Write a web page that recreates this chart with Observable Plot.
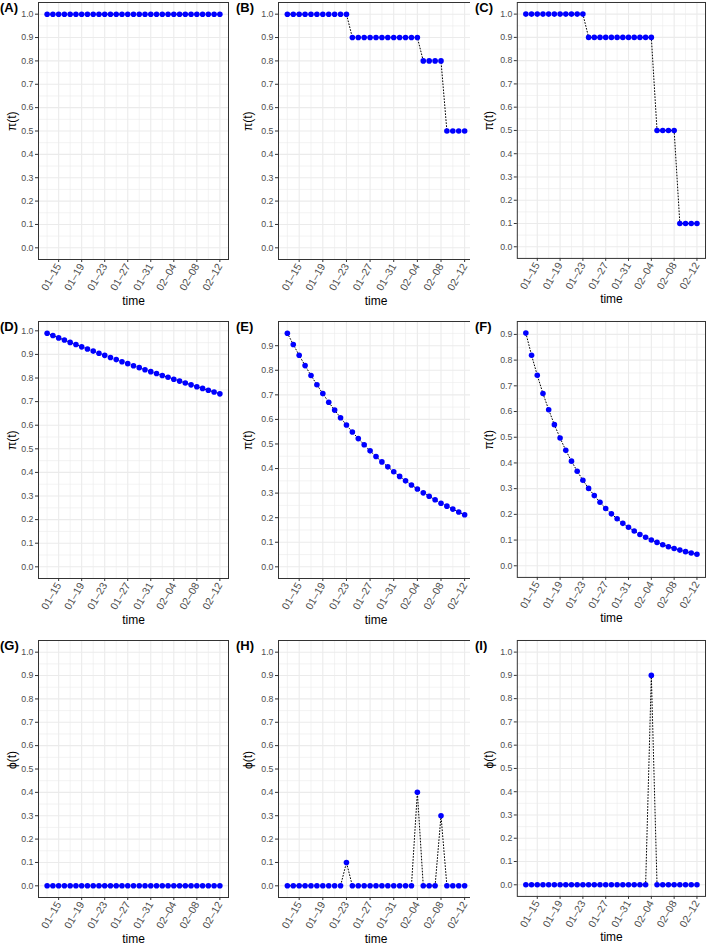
<!DOCTYPE html>
<html><head><meta charset="utf-8">
<script src="https://cdn.jsdelivr.net/npm/d3@7"></script>
<script src="https://cdn.jsdelivr.net/npm/@observablehq/plot@0.6"></script>
<style>
html,body{margin:0;padding:0;background:#fff;}
#root{position:relative;width:709px;height:946px;overflow:hidden;font-family:"Liberation Sans",Arial,sans-serif;}
.cell{position:absolute;}
.cell svg{display:block;overflow:visible;}
.tag{position:absolute;font-weight:bold;font-size:13px;line-height:13px;color:#000;font-family:"Liberation Sans",Arial,sans-serif;}
</style></head><body><div id="root"></div>
<script>
// ---- data ----
const dates = ["2020-01-13","2020-01-14","2020-01-15","2020-01-16","2020-01-17","2020-01-18","2020-01-19","2020-01-20","2020-01-21","2020-01-22","2020-01-23","2020-01-24","2020-01-25","2020-01-26","2020-01-27","2020-01-28","2020-01-29","2020-01-30","2020-01-31","2020-02-01","2020-02-02","2020-02-03","2020-02-04","2020-02-05","2020-02-06","2020-02-07","2020-02-08","2020-02-09","2020-02-10","2020-02-11","2020-02-12"];
const tickDates = ["2020-01-15","2020-01-19","2020-01-23","2020-01-27","2020-01-31","2020-02-04","2020-02-08","2020-02-12"];
const tickLabels = ["01–15","01–19","01–23","01–27","01–31","02–04","02–08","02–12"];
const minorDates = ["2020-01-13","2020-01-17","2020-01-21","2020-01-25","2020-01-29","2020-02-02","2020-02-06","2020-02-10"];
const yTickValues = [0,0.1,0.2,0.3,0.4,0.5,0.6,0.7,0.8,0.9,1.0];
const yMinorValues = [0.05,0.15,0.25,0.35,0.45,0.55,0.65,0.75,0.85,0.95];

const valuesA = [1,1,1,1,1,1,1,1,1,1,1,1,1,1,1,1,1,1,1,1,1,1,1,1,1,1,1,1,1,1,1];
const valuesB = [1,1,1,1,1,1,1,1,1,1,1,0.9,0.9,0.9,0.9,0.9,0.9,0.9,0.9,0.9,0.9,0.9,0.9,0.8,0.8,0.8,0.8,0.5,0.5,0.5,0.5];
const valuesC = [1,1,1,1,1,1,1,1,1,1,1,0.9,0.9,0.9,0.9,0.9,0.9,0.9,0.9,0.9,0.9,0.9,0.9,0.5,0.5,0.5,0.5,0.1,0.1,0.1,0.1];
const valuesD = [0.990,0.980,0.970,0.961,0.951,0.942,0.932,0.923,0.914,0.905,0.896,0.887,0.878,0.869,0.861,0.852,0.844,0.835,0.827,0.819,0.811,0.803,0.795,0.787,0.779,0.771,0.763,0.756,0.748,0.741,0.733];
const valuesE = [0.951,0.905,0.861,0.819,0.779,0.741,0.705,0.670,0.638,0.607,0.577,0.549,0.522,0.497,0.472,0.449,0.427,0.407,0.387,0.368,0.350,0.333,0.317,0.301,0.287,0.273,0.259,0.247,0.235,0.223,0.212];
const valuesF = [0.905,0.819,0.741,0.670,0.607,0.549,0.497,0.449,0.407,0.368,0.333,0.301,0.273,0.247,0.223,0.202,0.183,0.165,0.150,0.135,0.122,0.111,0.100,0.091,0.082,0.074,0.067,0.061,0.055,0.050,0.045];
const valuesG = [0,0,0,0,0,0,0,0,0,0,0,0,0,0,0,0,0,0,0,0,0,0,0,0,0,0,0,0,0,0,0];
const valuesH = [0,0,0,0,0,0,0,0,0,0,0.1,0,0,0,0,0,0,0,0,0,0,0,0.4,0,0,0,0.3,0,0,0,0];
const valuesI = [0,0,0,0,0,0,0,0,0,0,0,0,0,0,0,0,0,0,0,0,0,0,0.9,0,0,0,0,0,0,0,0];

const panelTags = ["(A)","(B)","(C)","(D)","(E)","(F)","(G)","(H)","(I)"];
const panelYLabels = ["π(t)","π(t)","π(t)","π(t)","π(t)","π(t)","ϕ(t)","ϕ(t)","ϕ(t)"];
const panelValues = [valuesA,valuesB,valuesC,valuesD,valuesE,valuesF,valuesG,valuesH,valuesI];
const panelYLimits = [[0,1],[0,1],[0,1],[0,0.99],[0,0.951],[0,0.905],[0,1],[0,1],[0,1]];

// ---- layout ----
const colLeft = [0,236,470];
const colMarginLeft = [38,42,47];
const colFrameW = [190,195,189];
const colTagX = [0,236,475];
const colYLabOff = [26,30,28];
const rowTop = [0,319,638];
const marginTop = 2, frameH = 257, marginBottom = 50, marginRight = 4;

const xStart = new Date("2020-01-11T12:00:00Z");
const xEnd = new Date("2020-02-13T12:00:00Z");
const labelMap = new Map(tickDates.map((d,i)=>[+new Date(d), tickLabels[i]]));
const root = document.getElementById("root");

panelValues.forEach((vals, k) => {
  const r = Math.floor(k/3), c = k%3;
  const data = dates.map((d,i)=>({t:new Date(d), v:vals[i]}));
  const [lo,hi] = panelYLimits[k];
  const pad = (hi-lo)*0.05;
  const y0 = lo - pad, y1 = hi + pad;
  const yt = yTickValues.filter(v => v >= y0 - 1e-9 && v <= y1 + 1e-9);
  const ym = yMinorValues.filter(v => v > y0 && v < y1);
  const plot = Plot.plot({
    width: colMarginLeft[c] + colFrameW[c] + marginRight,
    height: marginTop + frameH + marginBottom,
    marginLeft: colMarginLeft[c], marginRight, marginTop, marginBottom,
    style: {fontFamily: '"Liberation Sans", Arial, sans-serif', background: "white", overflow: "visible"},
    x: {type: "utc", domain: [xStart, xEnd]},
    y: {domain: [y0, y1]},
    marks: [
      Plot.gridX(minorDates.map(d=>new Date(d)), {stroke:"#ebebeb", strokeOpacity:1, strokeWidth:0.6}),
      Plot.gridY(ym, {stroke:"#ebebeb", strokeOpacity:1, strokeWidth:0.6}),
      Plot.gridX(tickDates.map(d=>new Date(d)), {stroke:"#ebebeb", strokeOpacity:1, strokeWidth:1.1}),
      Plot.gridY(yt, {stroke:"#ebebeb", strokeOpacity:1, strokeWidth:1.1}),
      Plot.line(data, {x:"t", y:"v", stroke:"black", strokeWidth:1, strokeDasharray:"0.9,2.1"}),
      Plot.dot(data, {x:"t", y:"v", r:2.8, fill:"#0000ff", stroke:"none"}),
      Plot.frame({stroke:"#333333", strokeWidth:1}),
      Plot.axisX(tickDates.map(d=>new Date(d)), {
        tickFormat: d => labelMap.get(+d), tickRotate: -60, tickSize: 3, tickPadding: 2,
        fontSize: 10.5, fill: "#4d4d4d", stroke: "#333333", label: null
      }),
      Plot.axisY(yt, {
        tickFormat: d3.format(".1f"), tickSize: 3, tickPadding: 2,
        fontSize: 8.8, fill: "#4d4d4d", stroke: "#333333", label: null
      }),
      Plot.text(["time"], {frameAnchor:"bottom", dy: 45, fontSize: 12, fill:"black"}),
      Plot.text([panelYLabels[k]], {frameAnchor:"left", dx: -colYLabOff[c], rotate: -90, fontSize: 12, fill:"black"})
    ]
  });
  const cell = document.createElement("div");
  cell.className = "cell";
  cell.style.left = colLeft[c] + "px";
  cell.style.top = rowTop[r] + "px";
  cell.appendChild(plot);
  root.appendChild(cell);
  const tag = document.createElement("div");
  tag.className = "tag";
  tag.textContent = panelTags[k];
  tag.style.left = colTagX[c] + "px";
  tag.style.top = (rowTop[r] + marginTop - 1) + "px";
  root.appendChild(tag);
});
</script>
</body></html>
